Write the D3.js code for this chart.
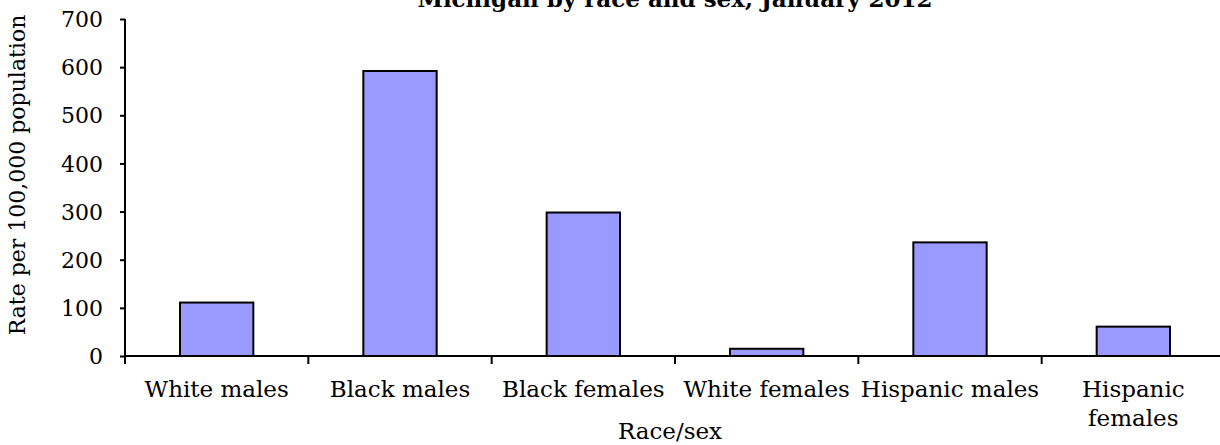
<!DOCTYPE html>
<html>
<head>
<meta charset="utf-8">
<script src="https://cdn.jsdelivr.net/npm/d3@7"></script>
<style>
  html, body { margin: 0; padding: 0; background: #fff; }
  svg { display: block; }
  text { font-family: "DejaVu Serif", "Liberation Serif", serif; fill: #000; }
</style>
</head>
<body>
<svg id="chart" width="1220" height="445"></svg>
<script>
// Rates per 100,000 population by race/sex group
const categories = ["White males", "Black males", "Black females", "White females", "Hispanic males", "Hispanic females"];
const rates = [111, 592, 298, 15, 236, 61];
const yTicks = [0, 100, 200, 300, 400, 500, 600, 700];
const titleText = "Michigan by race and sex, January 2012";
const xTitle = "Race/sex";
const yTitle = "Rate per 100,000 population";

const W = 1220, H = 445;
const margin = { left: 125, right: -5, top: 19, bottom: 89 };
const plotW = W - margin.left - margin.right;
const plotH = H - margin.top - margin.bottom;

const svg = d3.select("#chart");
const g = svg.append("g").attr("transform", `translate(${margin.left},${margin.top})`);

const x = d3.scaleBand().domain(categories).range([0, plotW]).paddingInner(0.6).paddingOuter(0.3);
const y = d3.scaleLinear().domain([0, 700]).range([plotH, 0]);

// bars
g.selectAll("rect.bar")
  .data(categories.map((c, i) => ({ c, v: rates[i] })))
  .join("rect")
  .attr("class", "bar")
  .attr("x", d => x(d.c))
  .attr("y", d => y(d.v))
  .attr("width", x.bandwidth())
  .attr("height", d => y(0) - y(d.v))
  .attr("fill", "#9999ff")
  .attr("stroke", "#000")
  .attr("stroke-width", 2);

// y axis
const yAxis = d3.axisLeft(y).tickValues(yTicks).tickSize(5).tickPadding(17).tickFormat(d3.format("d"));
const ya = g.append("g").call(yAxis);
ya.select(".domain").attr("stroke-width", 2).attr("d", `M0,0V${plotH}`);
ya.selectAll(".tick line").attr("stroke-width", 2);
ya.selectAll(".tick text").attr("font-size", 22).attr("font-family", "DejaVu Serif").attr("dy", "0.35em");

// x axis: line plus category-boundary ticks
const step = x.step();
const bounds = d3.range(categories.length + 1).map(i => x(categories[0]) - x.paddingOuter() * step + i * step);
const xa = g.append("g").attr("transform", `translate(0,${plotH})`);
xa.append("line").attr("x1", 0).attr("x2", plotW).attr("stroke", "#000").attr("stroke-width", 2);
xa.selectAll("line.t").data(bounds).join("line").attr("class", "t")
  .attr("x1", d => d).attr("x2", d => d).attr("y1", 0).attr("y2", 8)
  .attr("stroke", "#000").attr("stroke-width", 2);

// category labels, wrapped to the band width
const maxW = step - 4;
xa.selectAll("text.cat").data(categories).join("text").attr("class", "cat")
  .attr("text-anchor", "middle")
  .attr("font-size", 23)
  .attr("x", d => x(d) + x.bandwidth() / 2)
  .attr("y", 41)
  .each(function (d) {
    const t = d3.select(this);
    t.text(d);
    if (this.getComputedTextLength() > maxW) {
      const words = d.split(" ");
      t.text(null);
      words.forEach((w, i) => {
        t.append("tspan").attr("x", x(d) + x.bandwidth() / 2).attr("dy", i === 0 ? 0 : 29).text(w);
      });
    }
  });

// titles
const cx = margin.left + plotW / 2;
svg.append("text").attr("x", cx).attr("y", 7)
  .attr("text-anchor", "middle").attr("font-weight", "bold").attr("font-size", 23).text(titleText);
svg.append("text").attr("x", cx - 5).attr("y", 439)
  .attr("text-anchor", "middle").attr("font-size", 23).text(xTitle);
svg.append("text").attr("transform", `translate(25,${175}) rotate(-90)`)
  .attr("text-anchor", "middle").attr("font-size", 22).text(yTitle);
</script>
</body>
</html>
